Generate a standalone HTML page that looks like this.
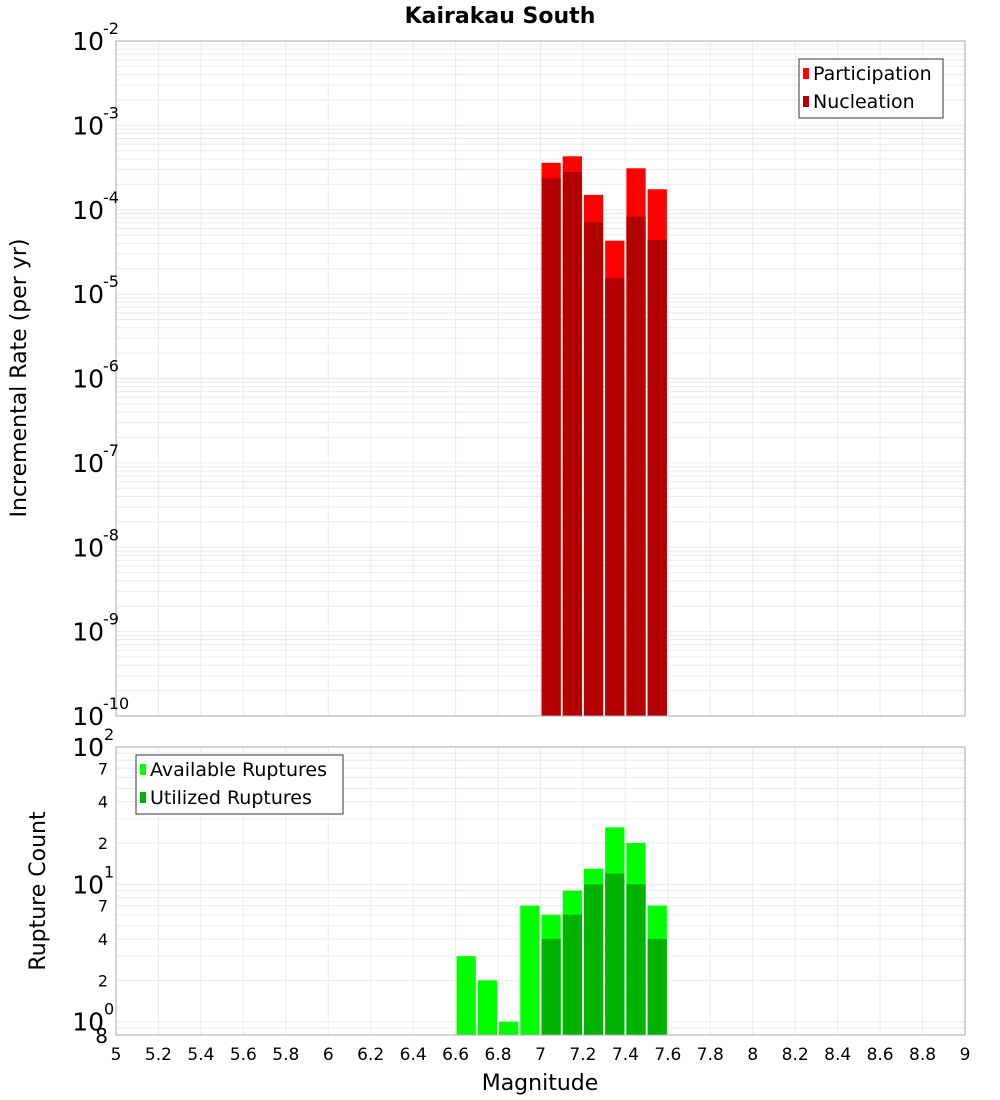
<!DOCTYPE html>
<html><head><meta charset="utf-8"><style>
body{margin:0;background:#fff;}
svg{display:block;font-family:"DejaVu Sans","Liberation Sans",sans-serif;}
</style></head><body>
<svg id="c" width="1000" height="1100" xmlns="http://www.w3.org/2000/svg"></svg>
<script>
const magBins=[6.6,6.7,6.8,6.9,7.0,7.1,7.2,7.3,7.4,7.5];
const rateMags=[7.0,7.1,7.2,7.3,7.4,7.5];
const participation=[3.6e-4,4.3e-4,1.5e-4,4.3e-5,3.1e-4,1.75e-4];
const nucleation=[2.35e-4,2.8e-4,7.1e-5,1.55e-5,8.3e-5,4.4e-5];
const available=[3,2,1,7,6,9,13,26,20,7];
const utilized=[0,0,0,0,4,6,10,12,10,4];
const xTicks=[5,5.2,5.4,5.6,5.8,6,6.2,6.4,6.6,6.8,7,7.2,7.4,7.6,7.8,8,8.2,8.4,8.6,8.8,9];
const topExps=[-10,-9,-8,-7,-6,-5,-4,-3,-2];
const botMinor=[2,4,7,20,40,70];

const svg=document.getElementById('c');
const NS='http://www.w3.org/2000/svg';
function mk(tag,attrs,parent){const e=document.createElementNS(NS,tag);for(const k in attrs)e.setAttribute(k,attrs[k]);(parent||svg).appendChild(e);return e;}
const L=116,R=965;
const X=v=>L+(v-5)/4*(R-L);
const T0=41,T1=716;
const YT=v=>T1-(Math.log10(v)+10)/8*(T1-T0);
const B0=747,B1=1035,bmin=0.8;
const YB=v=>B1-(Math.log10(v)-Math.log10(bmin))/(2-Math.log10(bmin))*(B1-B0);

let t=mk('text',{x:500,y:23,'text-anchor':'middle','font-size':22,'font-weight':'bold'});t.textContent='Kairakau South';


function grids(y0,y1,ys){
  xTicks.forEach(v=>{const l=mk('line',{x1:X(v),x2:X(v),y1:y0,y2:y1,stroke:'#ebebeb'});
    });
  ys.forEach(y=>{if(y>=y0&&y<=y1){const l=mk('line',{x1:L,x2:R,y1:y,y2:y,stroke:'#ebebeb'});
    }});
}
let tys=[];for(let e=-10;e<-2;e++)for(let m=1;m<10;m++)tys.push(YT(m*Math.pow(10,e)));tys.push(YT(1e-2));
grids(T0,T1,tys);
let bys=[];[0.1,1,10].forEach(d=>{for(let m=1;m<10;m++)bys.push(YB(m*d));});bys.push(YB(100));
grids(B0,B1,bys);

const bw=(X(0.1)-X(0))-2;
rateMags.forEach((m,i)=>{
  let r=mk('rect',{x:X(m)+1,y:YT(participation[i]),width:bw,height:T1-YT(participation[i]),fill:'#ff0000'});
  
  r=mk('rect',{x:X(m)+1,y:YT(nucleation[i]),width:bw,height:T1-YT(nucleation[i]),fill:'#b30000'});
  
});
magBins.forEach((m,i)=>{
  let r=mk('rect',{x:X(m)+1,y:YB(available[i]),width:bw,height:B1-YB(available[i]),fill:'#00ff00'});
  
  if(utilized[i]>0){r=mk('rect',{x:X(m)+1,y:YB(utilized[i]),width:bw,height:B1-YB(utilized[i]),fill:'#00b300'});
  }
});

let f=mk('rect',{x:L,y:T0,width:R-L,height:T1-T0,fill:'none',stroke:'#aaa'});

f=mk('rect',{x:L,y:B0,width:R-L,height:B1-B0,fill:'none',stroke:'#aaa'});


topExps.forEach(e=>{
  const y=YT(Math.pow(10,e));
  const g=mk('text',{x:104,y:y+9,'text-anchor':'end','font-size':25});g.textContent='10';
  
  const s=mk('text',{x:103,y:y-7,'font-size':16});s.textContent=String(e);
  
});
[[100,'2'],[10,'1'],[1,'0']].forEach(([v,e])=>{
  const y=YB(v);
  const g=mk('text',{x:104,y:y+9,'text-anchor':'end','font-size':25});g.textContent='10';
  
  const s=mk('text',{x:104,y:y-7,'font-size':16});s.textContent=e;
  
});
botMinor.forEach(v=>{
  const s=mk('text',{x:108,y:YB(v)+6,'text-anchor':'end','font-size':16});s.textContent=String(v).charAt(0);
  
});
t=mk('text',{x:108,y:YB(0.8)+8,'text-anchor':'end','font-size':20});t.textContent='8';


xTicks.forEach(v=>{
  const s=mk('text',{x:X(v),y:1060,'text-anchor':'middle','font-size':17});
  s.textContent=(Math.round(v*10)/10).toString();
  
});
t=mk('text',{x:540,y:1090,'text-anchor':'middle','font-size':22});t.textContent='Magnitude';

t=mk('text',{x:0,y:0,'text-anchor':'middle','font-size':22,transform:'translate(26,378) rotate(-90)'});t.textContent='Incremental Rate (per yr)';

t=mk('text',{x:0,y:0,'text-anchor':'middle','font-size':22,transform:'translate(45,891) rotate(-90)'});t.textContent='Rupture Count';


function legend(x,y,w,items,name){
  const g=mk('g',{});
  mk('rect',{x:x,y:y,width:w,height:59,fill:'#fff',stroke:'#333'},g);
  items.forEach(([c,lab],i)=>{
    mk('rect',{x:x+4,y:y+9+i*28,width:6,height:11,fill:c},g);
    const tt=mk('text',{x:x+14,y:y+21+i*28,'font-size':19},g);tt.textContent=lab;
    
  });
}
legend(799,59,144,[['#ff0000','Participation'],['#b30000','Nucleation']],'rate-legend');
legend(136,755,207,[['#00ff00','Available Ruptures'],['#00b300','Utilized Ruptures']],'count-legend');
</script>
</body></html>
